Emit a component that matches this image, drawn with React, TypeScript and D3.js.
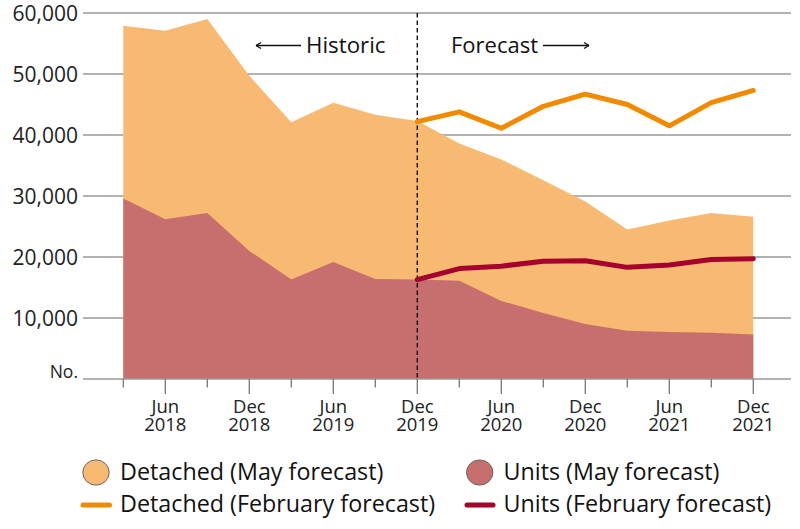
import React from "react";
import * as d3 from "d3";

const quarters = [
  "Mar 2018", "Jun 2018", "Sep 2018", "Dec 2018",
  "Mar 2019", "Jun 2019", "Sep 2019", "Dec 2019",
  "Mar 2020", "Jun 2020", "Sep 2020", "Dec 2020",
  "Mar 2021", "Jun 2021", "Sep 2021", "Dec 2021",
];
const detachedMay = [57900, 57100, 59000, 49700, 42100, 45300, 43300, 42300, 38600, 36000, 32600, 29100, 24500, 26000, 27200, 26600];
const unitsMay = [29600, 26200, 27200, 21000, 16300, 19200, 16400, 16300, 16100, 12800, 10800, 9000, 7900, 7700, 7600, 7300];
const detachedFeb: (number | null)[] = [null, null, null, null, null, null, null, 42200, 43800, 41100, 44700, 46700, 45000, 41500, 45300, 47300];
const unitsFeb: (number | null)[] = [null, null, null, null, null, null, null, 16300, 18100, 18500, 19300, 19400, 18300, 18700, 19600, 19700];
const yTicks = [10000, 20000, 30000, 40000, 50000, 60000];
const splitIndex = 7;

const FONT = "'Open Sans', sans-serif";
const C_DET_AREA = "#F8B972";
const C_UNI_AREA = "#C76F6F";
const C_DET_LINE = "#F28A00";
const C_UNI_LINE = "#A6002F";
const C_GRID = "#9a9a9a";

export default function App() {
  const W = 800, H = 529;
  const x = d3.scaleLinear().domain([0, quarters.length - 1]).range([123.3, 753.3]);
  const y = d3.scaleLinear().domain([0, 60000]).range([379, 13]);
  const gridX0 = 83, gridX1 = 791;

  const area = d3.area<number>().x((_, i) => x(i)).y0(y(0)).y1((d) => y(d));
  const line = d3
    .line<number | null>()
    .defined((d) => d !== null)
    .x((_, i) => x(i))
    .y((d) => y(d as number));

  const fmt = d3.format(",");

  return (
    <svg width={W} height={H} style={{ position: "absolute", left: 0, top: 0, display: "block" }} fontFamily={FONT}>
      <rect width={W} height={H} fill="#fff" />
      {yTicks.map((t) => (
        <line key={t} x1={gridX0} x2={gridX1} y1={y(t)} y2={y(t)} stroke={C_GRID} strokeWidth={1.5} />
      ))}
      <path d={area(detachedMay) || ""} fill={C_DET_AREA} />
      <path d={area(unitsMay) || ""} fill={C_UNI_AREA} />
      {/* baseline */}
      <line x1={gridX0} x2={gridX1} y1={y(0)} y2={y(0)} stroke={C_GRID} strokeWidth={1.5} />
      {/* x ticks */}
      {quarters.map((q, i) => {
        const major = q.startsWith("Jun") || q.startsWith("Dec");
        return (
          <line key={q} x1={x(i)} x2={x(i)} y1={y(0)} y2={y(0) + (major ? 15 : 8.5)} stroke="#777" strokeWidth={1.3} />
        );
      })}
      {/* split dashed line */}
      <line x1={x(splitIndex)} x2={x(splitIndex)} y1={y(60000)} y2={y(0)} stroke="#111" strokeWidth={1.4} strokeDasharray="4.5,3" />
      <path d={line(detachedFeb) || ""} fill="none" stroke={C_DET_LINE} strokeWidth={5} strokeLinecap="round" strokeLinejoin="round" />
      <path d={line(unitsFeb) || ""} fill="none" stroke={C_UNI_LINE} strokeWidth={5} strokeLinecap="round" strokeLinejoin="round" />
      {/* y labels */}
      {yTicks.map((t) => (
        <text key={t} x={78} y={y(t) + 7.5} textAnchor="end" fontSize={21} fill="#222">
          {fmt(t)}
        </text>
      ))}
      <text x={78} y={y(0) - 1} textAnchor="end" fontSize={17.5} fill="#222">No.</text>
      {/* x labels */}
      {quarters.map((q, i) => {
        const [m, yr] = q.split(" ");
        if (m !== "Jun" && m !== "Dec") return null;
        return (
          <text key={q} fontSize={18.5} fill="#222" textAnchor="middle" y={412.5}>
            <tspan x={x(i)} y={412.5}>{m}</tspan>
            <tspan x={x(i)} y={431}>{yr}</tspan>
          </text>
        );
      })}
      {/* annotations */}
      <line x1={256} x2={301} y1={45.5} y2={45.5} stroke="#111" strokeWidth={1.3} />
      <path d="M256,45.5 l5,-3 M256,45.5 l5,3" stroke="#111" strokeWidth={1.3} fill="none" />
      <text x={306} y={53.3} fontSize={22.3} fill="#111">Historic</text>
      <text x={451} y={53.3} fontSize={22} fill="#111">Forecast</text>
      <line x1={543} x2={589} y1={45.5} y2={45.5} stroke="#111" strokeWidth={1.3} />
      <path d="M589,45.5 l-5,-3 M589,45.5 l-5,3" stroke="#111" strokeWidth={1.3} fill="none" />
      {/* legend */}
      <g fontSize={23.3} fill="#111">
        <ellipse cx={96} cy={472.5} rx={13.2} ry={12.6} fill={C_DET_AREA} stroke="#666" strokeWidth={1} />
        <text x={120} y={479.8}>Detached (May forecast)</text>
        <line x1={83} x2={109.5} y1={505} y2={505} stroke={C_DET_LINE} strokeWidth={5} strokeLinecap="round" />
        <text x={120} y={512.2}>Detached (February forecast)</text>
        <ellipse cx={479.7} cy={472.5} rx={13.2} ry={12.6} fill={C_UNI_AREA} stroke="#666" strokeWidth={1} />
        <text x={503.5} y={479.8}>Units (May forecast)</text>
        <line x1={467} x2={493} y1={505} y2={505} stroke={C_UNI_LINE} strokeWidth={5} strokeLinecap="round" />
        <text x={503.5} y={512.2}>Units (February forecast)</text>
      </g>
    </svg>
  );
}
